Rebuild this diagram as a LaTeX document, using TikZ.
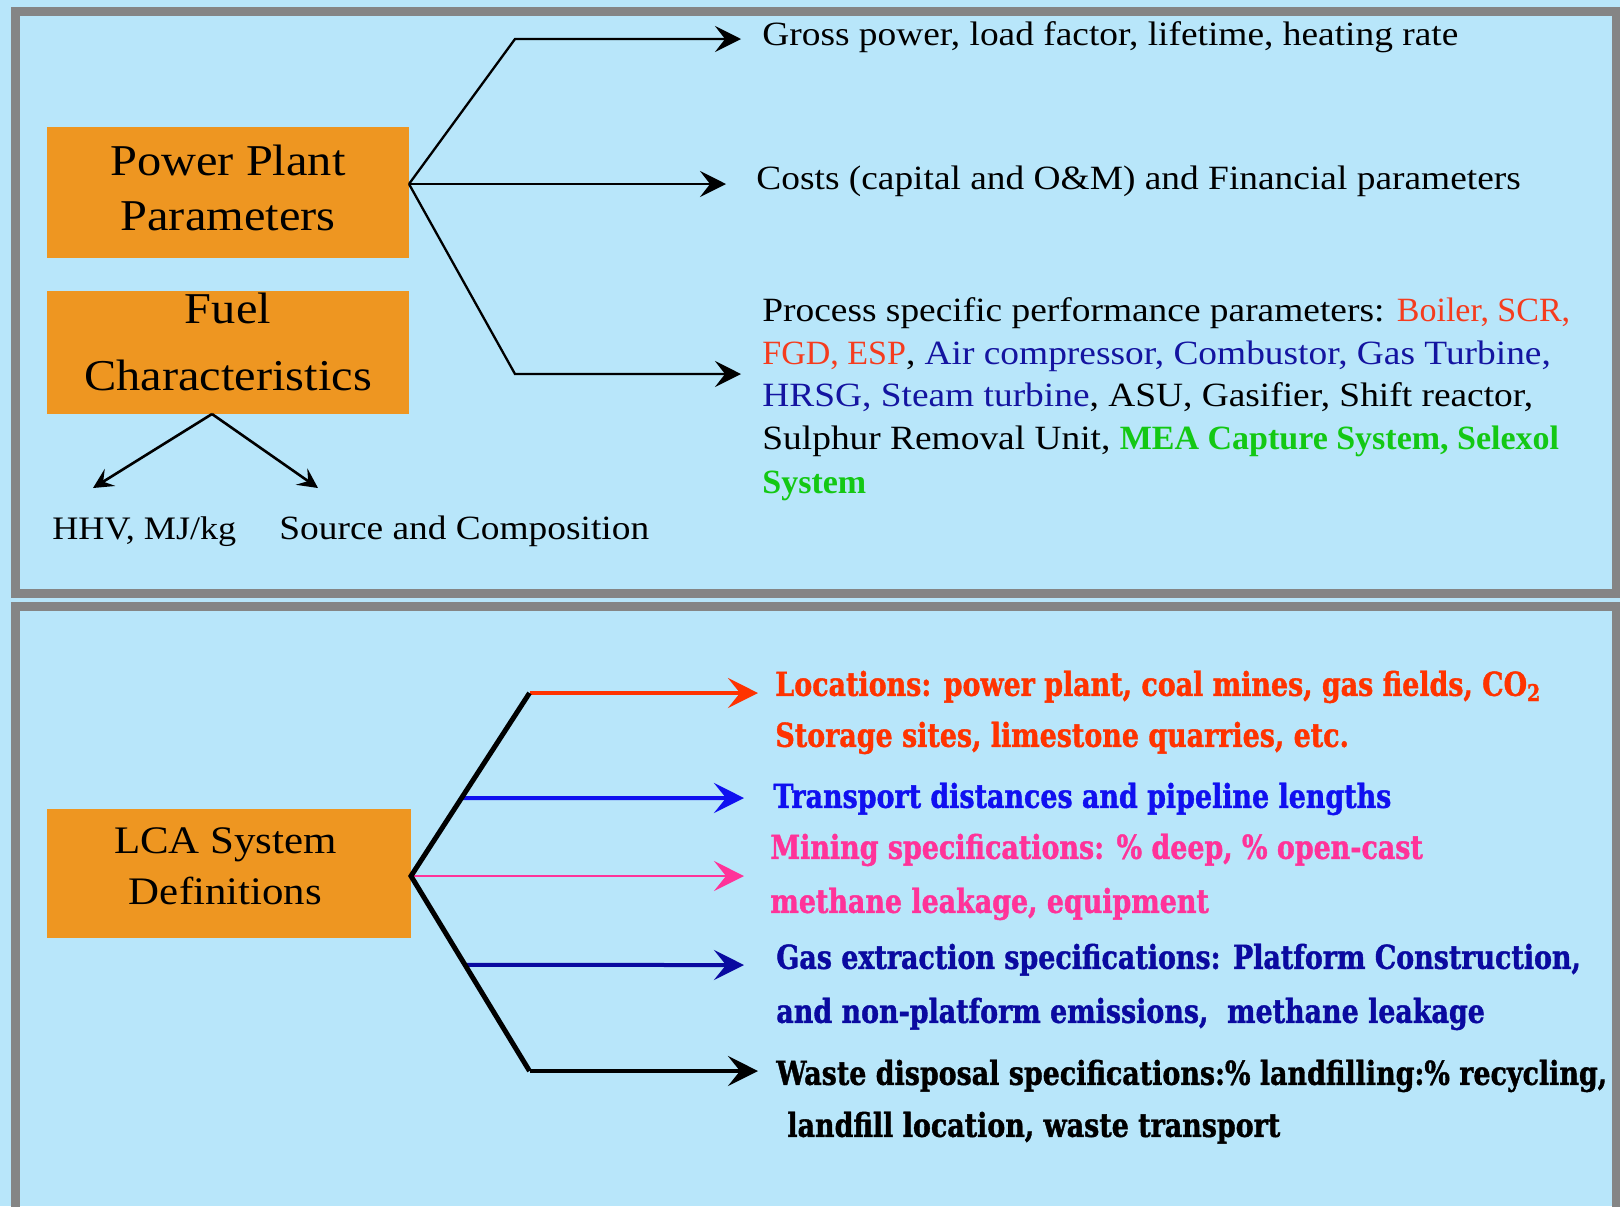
\documentclass[tikz,border=0pt]{standalone}
\usepackage{fontspec}
\setmainfont{Liberation Serif}
\newfontfamily\topf[FakeStretch=1.1]{Liberation Serif}
\newfontfamily\redf[FakeStretch=1.0]{Liberation Serif}
\newfontfamily\grnf[FakeStretch=1.0]{Liberation Serif}
\newfontfamily\slab[FakeStretch=0.815,BoldFeatures={FakeBold=1.2}]{DejaVu Serif}
\usetikzlibrary{arrows.meta,calc}
\definecolor{bgblue}{RGB}{184,230,250}
\definecolor{panelgray}{RGB}{133,133,133}
\definecolor{boxorange}{RGB}{238,150,33}
\definecolor{tred}{RGB}{245,60,30}
\definecolor{tnavy}{RGB}{20,20,160}
\definecolor{tgreen}{RGB}{20,200,20}
\definecolor{bred}{RGB}{255,51,0}
\definecolor{bblue}{RGB}{16,16,240}
\definecolor{bpink}{RGB}{255,51,153}
\definecolor{bdblue}{RGB}{10,10,160}
\begin{document}
\begin{tikzpicture}[x=0.5pt,y=-0.5pt,
  panel/.style={draw=panelgray,line width=4.5pt},
  obox/.style={fill=boxorange,draw=none,inner sep=0pt},
  boxtext/.style={align=center,inner sep=0pt,font=\topf\fontsize{22}{27.5}\selectfont},
  lbl/.style={anchor=west,inner sep=0pt,text height=1.1em,text depth=0.25em,font=\topf\fontsize{17}{21.5}\selectfont},
  slbl/.style={anchor=west,inner sep=0pt,text height=1.15em,text depth=0.27em,font=\slab\bfseries\fontsize{16.5}{20}\selectfont},
  tarrow/.style={draw=black,line width=1.15pt,line join=miter,-{Stealth[length=13pt,width=13pt,inset=5pt]}},
  farrow/.style={draw=black,line width=1.3pt,-{Stealth[length=10pt,width=10pt,inset=4pt]}},
  barrow/.style={line width=2pt,-{Stealth[length=15pt,width=15pt,inset=6pt]}},
  diag/.style={draw=black,line width=2.5pt,line join=miter}
]
\useasboundingbox (0,0) rectangle (1620,1206);
\clip (0,0) rectangle (1620,1206);
\fill[bgblue] (0,0) rectangle (1620,1206);
\draw[panel] (15,11) rectangle (1616,593);
\draw[panel] (15,606) rectangle (1616,1240);

% ---------- top panel ----------
\node[obox,minimum width=181pt,minimum height=65.5pt] (ppbox) at (228,192.5) {};
\node[boxtext] (pptext) at (228,187.5) {Power Plant\\Parameters};
\node[obox,minimum width=181pt,minimum height=61.5pt] (fuelbox) at (228,352.5) {};
\node[boxtext,font=\topf\fontsize{22}{33.5}\selectfont] (fueltext) at (228,341.5) {Fuel\\Characteristics};

\coordinate (j1) at (409,184);
\coordinate (u1) at (515,39);
\coordinate (a1) at (741,39);
\coordinate (a2) at (726,184);
\coordinate (d1) at (515,374);
\coordinate (a3) at (741,374);
\draw[tarrow] (j1) -- (u1) -- (a1);
\draw[tarrow] (j1) -- (a2);
\draw[tarrow] (j1) -- (d1) -- (a3);

\node[lbl] (gross) at (762,36.5) {Gross power, load factor, lifetime, heating rate};
\node[lbl] (costs) at (756,181) {Costs (capital and O\&M) and Financial parameters};
\node[lbl] (proc1) at (762,313) {Process specific performance parameters: {\redf\color{tred}Boiler, SCR,}};
\node[lbl] (proc2) at (762,356) {{\redf\color{tred}FGD, ESP}, {\color{tnavy}Air compressor, Combustor, Gas Turbine,}};
\node[lbl] (proc3) at (762,398) {{\color{tnavy}HRSG, Steam turbine}, ASU, Gasifier, Shift reactor,};
\node[lbl] (proc4) at (762,441) {Sulphur Removal Unit, {\grnf\color{tgreen}\bfseries MEA Capture System, Selexol}};
\node[lbl] (proc5) at (762,485) {{\grnf\color{tgreen}\bfseries System}};

\coordinate (f0) at (212,414);
\coordinate (f1) at (93,488);
\coordinate (f2) at (318,488);
\draw[farrow] (f0) -- (f1);
\draw[farrow] (f0) -- (f2);
\node[lbl,font=\topf\fontsize{16.4}{21.5}\selectfont] (hhv) at (52,531) {HHV, MJ/kg};
\node[lbl] (source) at (279,531) {Source and Composition};

% ---------- bottom panel ----------
\node[obox,minimum width=182.25pt,minimum height=64.5pt] (lcabox) at (228.75,873.5) {};
\node[boxtext,font=\topf\fontsize{19.5}{25.5}\selectfont] (lcatext) at (225.5,866) {LCA System\\Definitions};

\coordinate (j2) at (411,876);
\coordinate (cup) at (529.5,693);
\coordinate (cdn) at (529.5,1071);
\coordinate (rend) at (758,693);
\coordinate (kend) at (758,1071);
\coordinate (bst) at ($(j2)!0.426!(cup)$);
\coordinate (bend) at (744,798);
\coordinate (pend) at (744,876);
\coordinate (dbst) at ($(j2)!0.456!(cdn)$);
\coordinate (dbend) at (744,965);

\draw[barrow,draw=bred] (cup) -- (rend);
\draw[barrow,draw=bblue] (bst) -- (bend);
\draw[barrow,draw=bpink,line width=1.1pt] (j2) -- (pend);
\draw[barrow,draw=bdblue] (dbst) -- (dbend);
\draw[barrow,draw=black] (cdn) -- (kend);
\draw[diag] (cup) -- (j2) -- (cdn);

\node[slbl,text=bred] (loc1) at (775,687) {Locations: power plant, coal mines, gas fields, CO\textsubscript{2}};
\node[slbl,text=bred] (loc2) at (775,738) {Storage sites, limestone quarries, etc.};
\node[slbl,text=bblue] (trans) at (773,799) {Transport distances and pipeline lengths};
\node[slbl,text=bpink] (mine1) at (770,850) {Mining specifications: \% deep, \% open-cast};
\node[slbl,text=bpink] (mine2) at (770,904) {methane leakage, equipment};
\node[slbl,text=bdblue] (gas1) at (776,960) {Gas extraction specifications: Platform Construction,};
\node[slbl,text=bdblue] (gas2) at (776,1014) {and non-platform emissions,\ \ methane leakage};
\node[slbl,text=black] (waste1) at (776,1076) {Waste disposal specifications:\% landfilling:\% recycling,};
\node[slbl,text=black] (waste2) at (787,1128) {landfill location, waste transport};
\end{tikzpicture}
\end{document}
